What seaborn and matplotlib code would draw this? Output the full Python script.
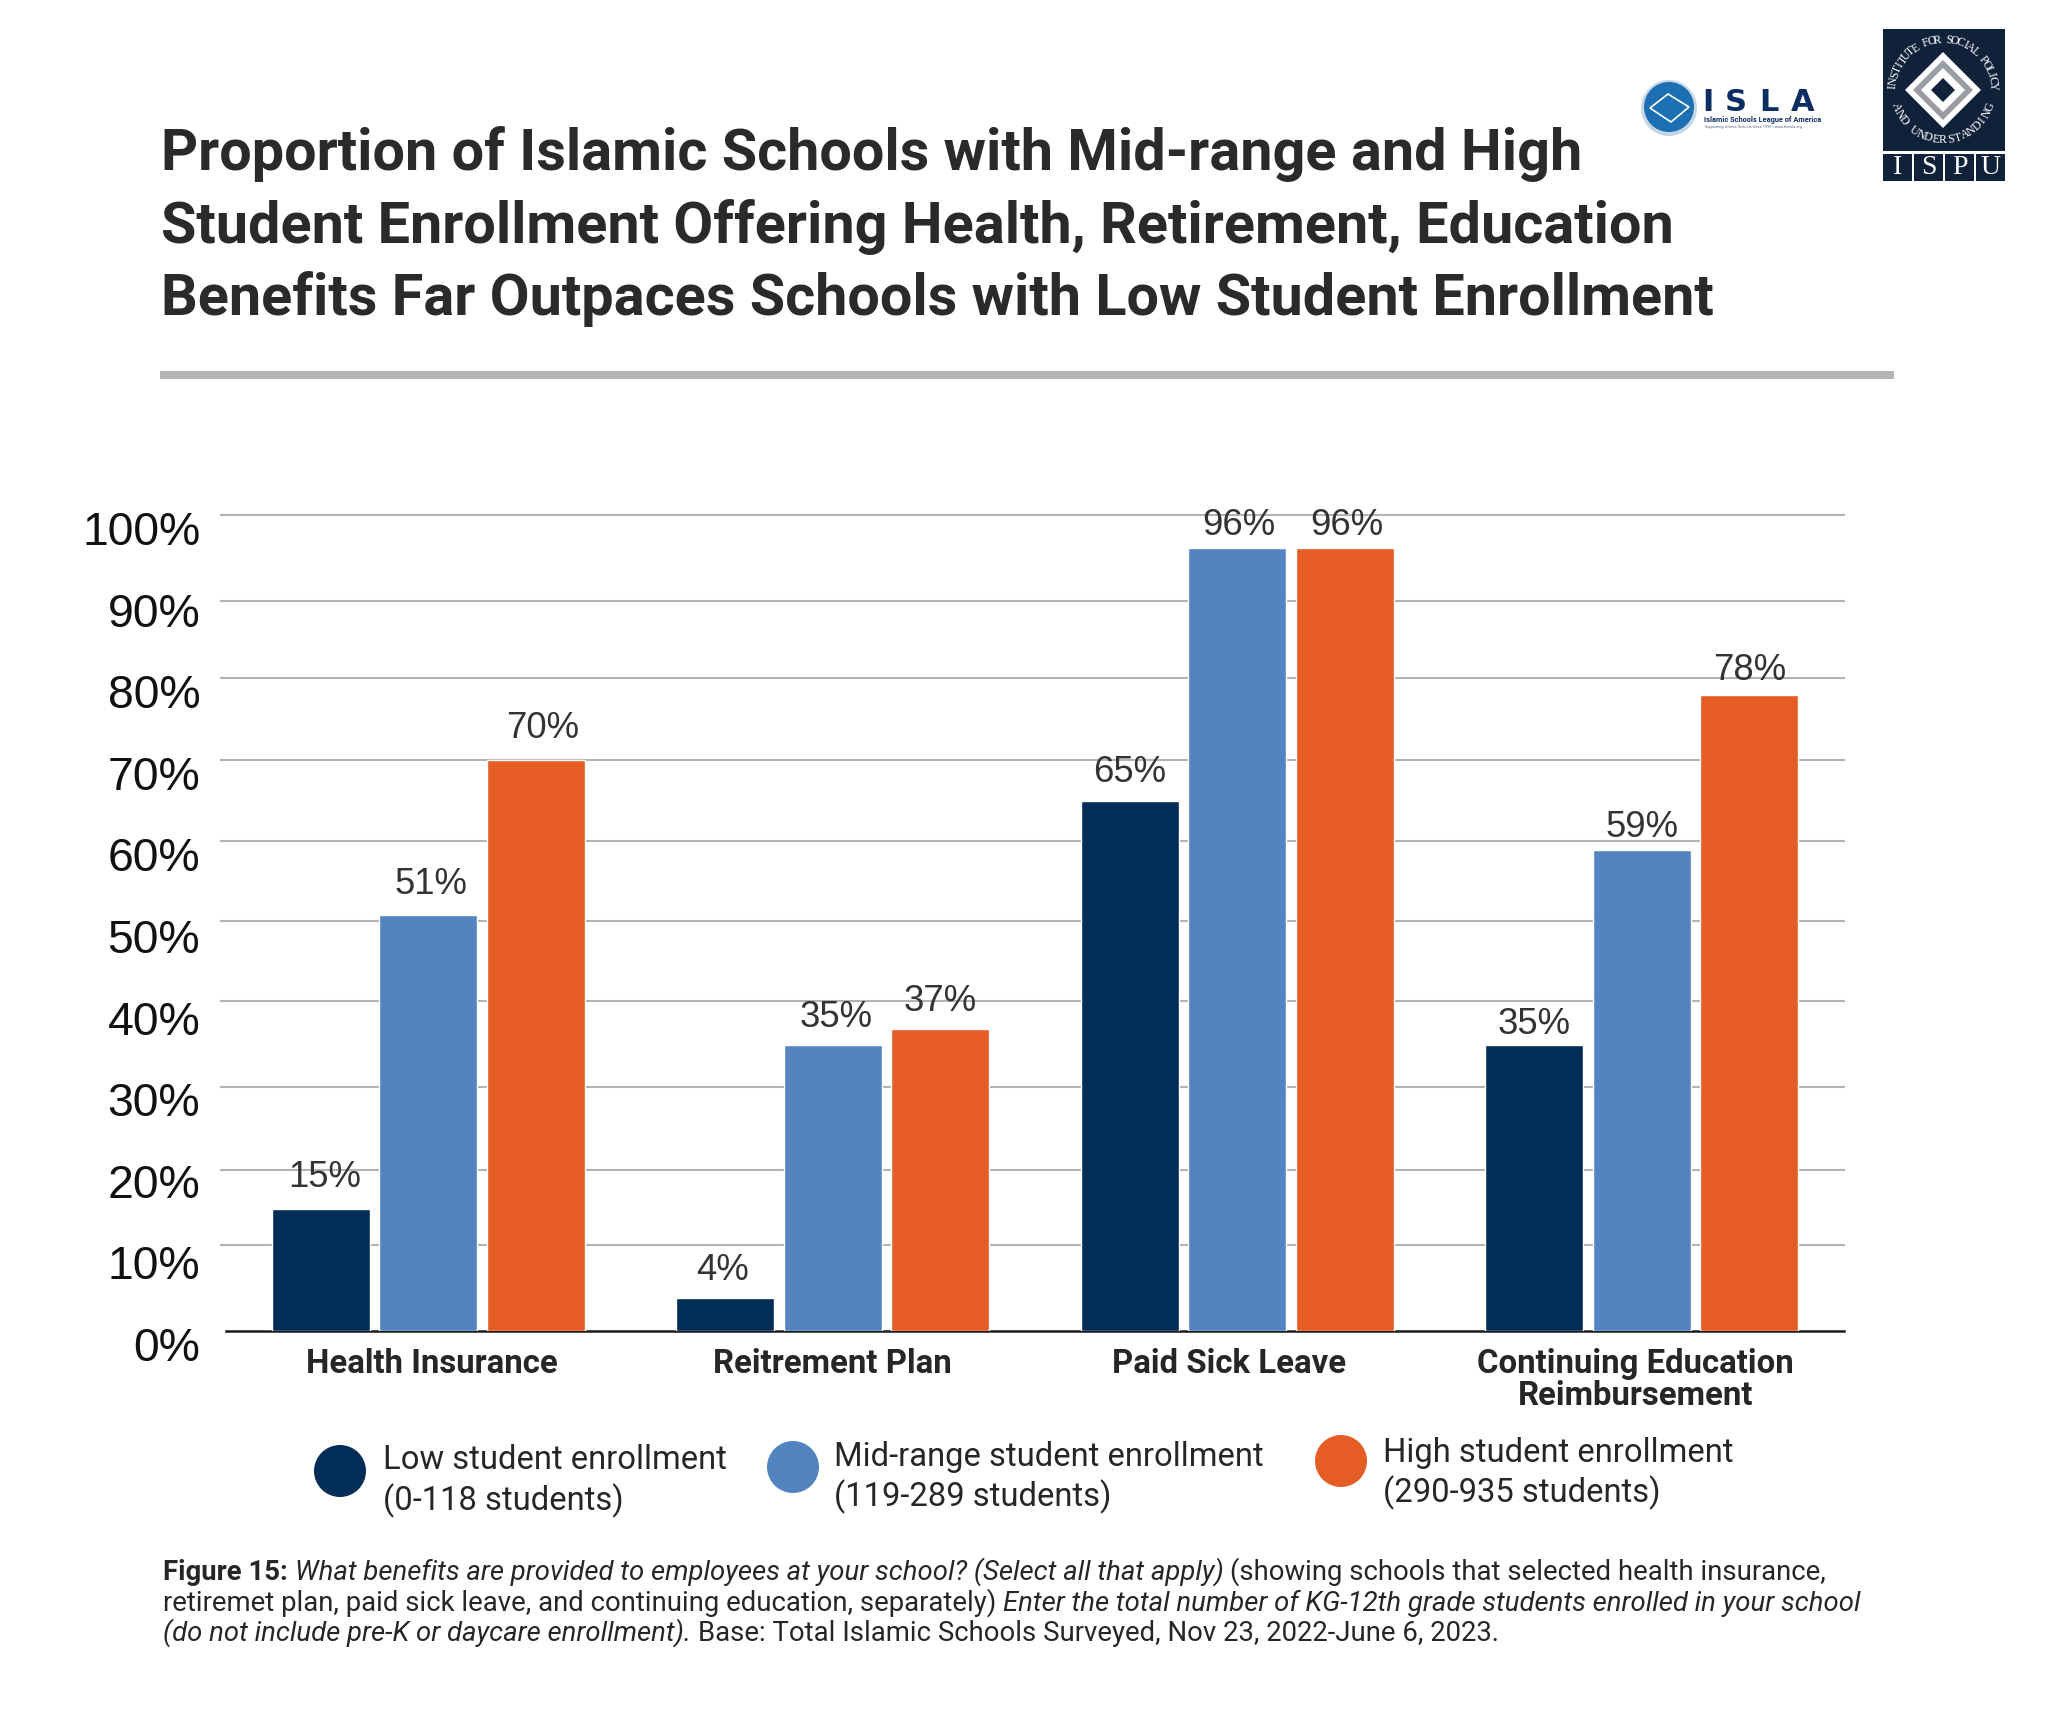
import numpy as np
import pandas as pd
import matplotlib
matplotlib.use("Agg")
import matplotlib.pyplot as plt
import seaborn as sns
from matplotlib.patches import Circle, Polygon, Rectangle
from matplotlib.transforms import ScaledTranslation

# values
benefits = ["Health Insurance", "Reitrement Plan", "Paid Sick Leave", "Continuing Education\nReimbursement"]
low = [15, 4, 65, 35]
mid = [51, 35, 96, 59]
high = [70, 37, 96, 78]
groups = ["Low student enrollment", "Mid-range student enrollment", "High student enrollment"]
ranges = ["(0-118 students)", "(119-289 students)", "(290-935 students)"]
y_ticks = [0, 10, 20, 30, 40, 50, 60, 70, 80, 90, 100]
# the gridlines in the original are hand placed and not quite on the ticks
grid_levels = [10.5, 19.7, 29.9, 40.5, 50.2, 60.1, 70, 80, 89.5, 100]

colors = ["#012d57", "#5384c0", "#e65c25"]
BODY = "Roboto"
GREY = "#b2b3b3"
INK = "#262626"

sns.set_theme(style="white")
plt.rcParams["font.family"] = [BODY, "DejaVu Sans"]

df = pd.DataFrame({
    "benefit": benefits * 3,
    "group": np.repeat(groups, 4),
    "share": low + mid + high,
})

W, H = 2048, 1717
fig = plt.figure(figsize=(W / 100, H / 100), dpi=100, facecolor="white")

# plot area in pixels: x 226-1844, y 515-1331
ax = fig.add_axes([226 / W, 1 - 1331 / H, (1844 - 226) / W, (1331 - 515) / H])
sns.barplot(data=df, x="benefit", y="share", hue="group", palette=colors, saturation=1,
            width=0.798, gap=0.09, legend=False, ax=ax, zorder=3)
ax.set_ylim(0, 100)
ax.set_xlim(-0.5, 3.5)
ax.set_xlabel("")
ax.set_ylabel("")
sns.despine(ax=ax, left=True)
ax.spines["bottom"].set_color("#1a1a1a")
ax.spines["bottom"].set_linewidth(1.8)
ax.spines["bottom"].set_zorder(2)
ax.hlines(grid_levels, -0.516, 3.503, color=GREY, lw=1.5, zorder=1, clip_on=False)


def px_shift(dx, dy):
    return ScaledTranslation(dx / 100, dy / 100, fig.dpi_scale_trans)


ax.set_yticks(y_ticks)
ax.set_yticklabels([f"{v}%" for v in y_ticks], family="Liberation Sans", fontsize=33.4, color="#111111")
ax.tick_params(axis="y", length=0, pad=18.5)
for lab in ax.get_yticklabels():
    lab.set_transform(lab.get_transform() + px_shift(0, -13))

ax.tick_params(axis="x", length=0, pad=12.5)
ax.set_xticks(range(4))
ax.set_xticklabels(benefits, fontsize=23.7, fontweight="bold", color=INK, linespacing=0.97, va="top")
for lab, dx in zip(ax.get_xticklabels(), [4, 0, -8, -6]):
    lab.set_transform(lab.get_transform() + px_shift(dx, 0))

# value labels sit a bit closer to the bars on the right of the chart
lifts = [[31, 28, 28, 21], [30, 28, 22, 22], [31, 28, 22, 24]]
nudges = [[4, -3, 0, 0], [3, 3, 2, 0], [7, 0, 2, 0]]
for bars, lift, nudge in zip(ax.containers, lifts, nudges):
    for bar, up, dx in zip(bars, lift, nudge):
        ax.annotate(f"{bar.get_height():.0f}%", (bar.get_x() + bar.get_width() / 2, bar.get_height()),
                    xytext=(dx, up), textcoords="offset pixels", ha="center", va="center",
                    family="Liberation Sans", fontsize=26.3, color="#333333", zorder=5)

# everything outside the plot goes on a canvas in image pixels
canvas = fig.add_axes([0, 0, 1, 1], zorder=-1)
canvas.set_xlim(0, W)
canvas.set_ylim(H, 0)
canvas.axis("off")

title_lines = [
    "Proportion of Islamic Schools with Mid-range and High",
    "Student Enrollment Offering Health, Retirement, Education",
    "Benefits Far Outpaces Schools with Low Student Enrollment",
]
for line, y in zip(title_lines, [154, 227, 299]):
    canvas.text(161, y, line, fontsize=41.5, fontweight="bold", color="#2a2a2a", va="center")
canvas.add_patch(Rectangle((160, 371), 1734, 8, color=GREY, lw=0))

# legend, each entry sits a little higher than the previous one
dots = [(340, 1471), (793, 1467), (1341, 1461)]
text_x = [383, 834, 1383]
text_y = [(1460, 1501), (1457, 1497), (1453, 1493)]
for c, (dx, dy), tx, (y1, y2), g, r in zip(colors, dots, text_x, text_y, groups, ranges):
    canvas.add_patch(Circle((dx, dy), 26, color=c, lw=0))
    canvas.text(tx, y1, g, fontsize=23.6, color=INK, va="center")
    canvas.text(tx, y2, r, fontsize=23.6, color=INK, va="center")

# footnote, mixed styles on one line
note = [
    [("Figure 15:", "bold", "normal"),
     ("What benefits are provided to employees at your school? (Select all that apply)", "normal", "italic"),
     ("(showing schools that selected health insurance,", "normal", "normal")],
    [("retiremet plan, paid sick leave, and continuing education, separately)", "normal", "normal"),
     ("Enter the total number of KG-12th grade students enrolled in your school", "normal", "italic")],
    [("(do not include pre-K or daycare enrollment).", "normal", "italic"),
     ("Base: Total Islamic Schools Surveyed, Nov 23, 2022-June 6, 2023.", "normal", "normal")],
]
renderer = fig.canvas.get_renderer()
for runs, y in zip(note, [1572, 1603, 1633]):
    x = 163
    for txt, weight, style in runs:
        t = canvas.text(x, y, txt, fontsize=19.85, fontweight=weight, fontstyle=style, color=INK, va="center")
        x = t.get_window_extent(renderer).x1 + 7

# ISPU logo
NAVY = "#10213a"
canvas.add_patch(Rectangle((1883, 29), 122, 122, color=NAVY, lw=0))
cx, cy = 1943, 90
for half, col in [(38, "white"), (30, "#9a9ea3"), (22, "white"), (12, NAVY)]:
    canvas.add_patch(Polygon([(cx - half, cy), (cx, cy - half), (cx + half, cy), (cx, cy + half)], color=col, lw=0))
for x0, letter in zip([1883, 1914, 1945, 1976], "ISPU"):
    canvas.add_patch(Rectangle((x0, 154), 29, 27, color=NAVY, lw=0))
    canvas.text(x0 + 14.5, 167.5, letter, family="Liberation Serif", fontsize=20, color="white", ha="center", va="center")
top_arc = "INSTITUTE FOR SOCIAL POLICY"
for ch, a in zip(top_arc, np.linspace(176, 4, len(top_arc))):
    canvas.text(cx + 50 * np.cos(np.radians(a)), cy - 50 * np.sin(np.radians(a)), ch, family="Liberation Serif",
                fontsize=8.5, color="white", ha="center", va="center", rotation=a - 90, rotation_mode="anchor")
bottom_arc = "AND UNDERSTANDING"
for ch, a in zip(bottom_arc, np.linspace(200, 340, len(bottom_arc))):
    canvas.text(cx + 50 * np.cos(np.radians(a)), cy - 50 * np.sin(np.radians(a)), ch, family="Liberation Serif",
                fontsize=8.5, color="white", ha="center", va="center", rotation=a + 90, rotation_mode="anchor")

# ISLA logo
canvas.add_patch(Circle((1669, 108), 28, color="#c5d6e6", lw=0))
canvas.add_patch(Circle((1669, 107), 25, color="#1c6fb3", lw=0))
canvas.add_patch(Polygon([(1650, 108), (1668, 94), (1689, 107), (1671, 122)], fill=False, ec="white", lw=1.2))
for x0, letter in zip([1708, 1736, 1769, 1803], "ISLA"):
    canvas.text(x0, 102.5, letter, family="DejaVu Sans", fontweight="bold", fontsize=22, color="#0b2d63", ha="center", va="center")
canvas.text(1704, 119.5, "Islamic Schools League of America", fontsize=5.3, fontweight="bold", color="#0b2d63", va="center")
canvas.text(1705, 127, "Supporting Islamic Schools Since 1995 | www.theisla.org", fontsize=2.8, color="#5a6b85", va="center")

fig.savefig("out.png", dpi=100)
